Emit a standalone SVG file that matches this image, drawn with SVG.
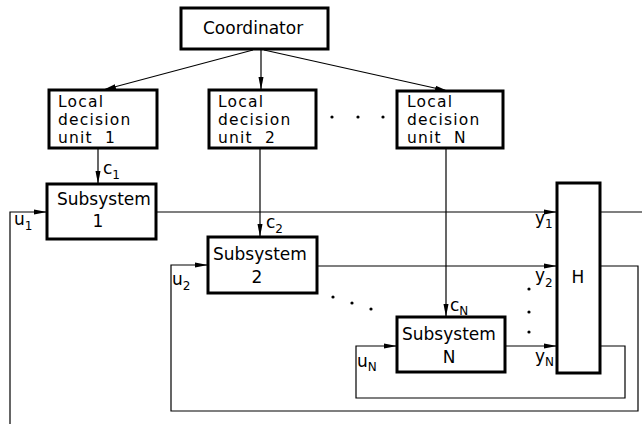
<svg xmlns="http://www.w3.org/2000/svg" width="642" height="424" viewBox="0 0 642 424">
<style>
.box{fill:#fff;stroke:#000;stroke-width:3}
.ln{fill:none;stroke:#000;stroke-width:1.2}
text{font-family:"DejaVu Sans","Liberation Sans",sans-serif;fill:#000}
.t{font-size:17px}
.d{font-size:15.5px;letter-spacing:1.2px}
.lb{font-size:17px}
.sb{font-size:12px}
</style>
<defs>
<marker id="ah" markerUnits="userSpaceOnUse" markerWidth="14" markerHeight="6" refX="13" refY="3" orient="auto">
<path d="M0,0.5 L13,3 L0,5.5 Z" fill="#000"/>
</marker>
</defs>
<rect width="642" height="424" fill="#fff"/>
<g id="connectors">
<line class="ln" x1="253" y1="50" x2="103" y2="90" marker-end="url(#ah)"/>
<line class="ln" x1="261" y1="50" x2="261" y2="90" marker-end="url(#ah)"/>
<line class="ln" x1="264" y1="50" x2="448" y2="91" marker-end="url(#ah)"/>
<line class="ln" x1="98" y1="148" x2="98" y2="184" marker-end="url(#ah)"/>
<line class="ln" x1="260" y1="148" x2="260" y2="237" marker-end="url(#ah)"/>
<line class="ln" x1="446" y1="148" x2="446" y2="317" marker-end="url(#ah)"/>
<line class="ln" x1="156" y1="212" x2="557" y2="212" marker-end="url(#ah)"/>
<line class="ln" x1="600" y1="212" x2="642" y2="212"/>
<polyline class="ln" points="10,424 10,212 47,212" marker-end="url(#ah)"/>
<line class="ln" x1="317" y1="266" x2="557" y2="266" marker-end="url(#ah)"/>
<polyline class="ln" points="600,266 638,266 638,411 171,411 171,265 208,265" marker-end="url(#ah)"/>
<line class="ln" x1="505" y1="346" x2="557" y2="346" marker-end="url(#ah)"/>
<polyline class="ln" points="600,346 625,346 625,398 356,398 356,346 397,346" marker-end="url(#ah)"/>
</g>
<g id="dots" fill="#000">
<circle cx="332" cy="117" r="1.6"/>
<circle cx="358" cy="117" r="1.6"/>
<circle cx="383" cy="117" r="1.6"/>
<circle cx="333" cy="297" r="1.6"/>
<circle cx="352" cy="303" r="1.6"/>
<circle cx="371" cy="309" r="1.6"/>
<circle cx="529" cy="289" r="1.6"/>
<circle cx="529" cy="312" r="1.6"/>
<circle cx="529" cy="332" r="1.6"/>
</g>
<g id="coordinator">
<rect class="box" x="181" y="8" width="147" height="41"/>
<text class="t" x="203" y="34">Coordinator</text>
</g>
<g id="ldu1">
<rect class="box" x="49" y="90" width="108" height="58"/>
<text class="d" x="58" y="107">Local</text>
<text class="d" x="58" y="125">decision</text>
<text class="d" x="58" y="143" style="white-space:pre">unit  1</text>
</g>
<g id="ldu2">
<rect class="box" x="209" y="90" width="107" height="58"/>
<text class="d" x="218" y="107">Local</text>
<text class="d" x="218" y="125">decision</text>
<text class="d" x="218" y="143" style="white-space:pre">unit  2</text>
</g>
<g id="lduN">
<rect class="box" x="397" y="91" width="106" height="57"/>
<text class="d" x="407" y="107">Local</text>
<text class="d" x="407" y="125">decision</text>
<text class="d" x="407" y="143" style="white-space:pre">unit  N</text>
</g>
<g id="sub1">
<rect class="box" x="47" y="184" width="109" height="55"/>
<text class="t" x="57" y="205">Subsystem</text>
<text class="t" x="98" y="227" text-anchor="middle">1</text>
</g>
<g id="sub2">
<rect class="box" x="208" y="237" width="109" height="56"/>
<text class="t" x="213" y="260">Subsystem</text>
<text class="t" x="257" y="283" text-anchor="middle">2</text>
</g>
<g id="subN">
<rect class="box" x="397" y="317" width="108" height="55"/>
<text class="t" x="402" y="340">Subsystem</text>
<text class="t" x="449" y="363" text-anchor="middle">N</text>
</g>
<g id="H">
<rect class="box" x="557" y="183" width="43" height="190"/>
<text class="t" x="578" y="283" text-anchor="middle">H</text>
</g>
<g id="labels">
<text class="lb" x="103" y="174">c<tspan class="sb" dy="5">1</tspan></text>
<text class="lb" x="266" y="228">c<tspan class="sb" dy="5">2</tspan></text>
<text class="lb" x="450" y="311">c<tspan class="sb" dy="4">N</tspan></text>
<text class="lb" x="14" y="225">u<tspan class="sb" dy="5">1</tspan></text>
<text class="lb" x="172" y="285">u<tspan class="sb" dy="5">2</tspan></text>
<text class="lb" x="357" y="367">u<tspan class="sb" dy="4">N</tspan></text>
<text class="lb" x="535" y="224">y<tspan class="sb" dy="4">1</tspan></text>
<text class="lb" x="535" y="281">y<tspan class="sb" dy="6">2</tspan></text>
<text class="lb" x="535" y="362">y<tspan class="sb" dy="4">N</tspan></text>
</g>
</svg>
